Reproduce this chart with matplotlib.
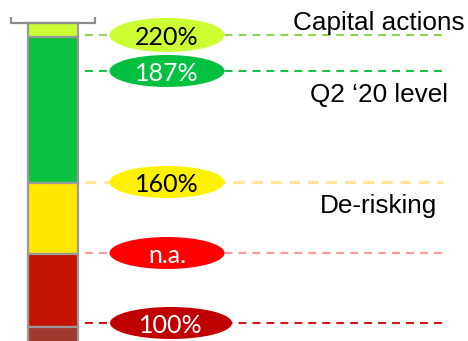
import matplotlib
matplotlib.use("Agg")
import matplotlib.pyplot as plt
from matplotlib.patches import Ellipse, Rectangle

# stacked column, top to bottom: (top edge, bottom edge, colour)
seg_tops = [23, 37, 183, 254, 327]
seg_bottoms = [37, 183, 254, 327, 350]
seg_colors = ["#CCFF33", "#0BC140", "#FFE800", "#C41400", "#A3382E"]

# level markers
level_labels = ["220%", "187%", "160%", "n.a.", "100%"]
level_y = [35, 71, 182, 253, 323]
bubble_colors = ["#CCFF33", "#00C040", "#FFF200", "#FF0000", "#C00000"]
text_colors = ["black", "white", "black", "white", "white"]
line_colors = ["#92D050", "#1BC145", "#FFE699", "#FF9999", "#D01818"]

# right-hand captions
captions = ["Capital actions", "Q2 \u201820 level", "De-risking"]
caption_y = [30, 102, 213]

W, H = 468, 341
fig = plt.figure(figsize=(W / 100, H / 100), dpi=100)
ax = fig.add_axes([0, 0, 1, 1])
ax.set_xlim(0, W)
ax.set_ylim(H, 0)
ax.axis("off")

# bracket on top of the column
ax.plot([11, 11, 95, 95], [17, 23, 23, 17], color="#8C8C8C", lw=1.6,
        solid_capstyle="butt", zorder=4)

# column segments
for top, bot, col in zip(seg_tops, seg_bottoms, seg_colors):
    ax.add_patch(Rectangle((28, top), 50, bot - top, facecolor=col,
                           edgecolor="#999999", lw=1.6, zorder=3))

# dashed level lines with labelled bubbles
for i, lab in enumerate(level_labels):
    y = level_y[i]
    if i == 2:
        ax.plot([85, 443], [y, y], color=line_colors[i], lw=2.3,
                dashes=(3.4, 2.4), zorder=1)
    else:
        ax.plot([85, 443], [y, y], color=line_colors[i], lw=1.5,
                dashes=(3.8, 2.9), zorder=1)
    w = 122 if lab == "100%" else 115
    cx = 171 if lab == "100%" else 167
    h = 34 if i == 0 else 32
    ax.add_patch(Ellipse((cx, y), w, h, facecolor=bubble_colors[i],
                         edgecolor="none", zorder=2))
    ax.text(cx, y + 10, lab, ha="center", va="baseline", fontsize=18,
            family="Lato", color=text_colors[i], zorder=3)

for txt, y in zip(captions, caption_y):
    ax.text(379, y, txt, ha="center", va="baseline", fontsize=18.8,
            family="Liberation Sans", color="black")

fig.savefig("out.png", dpi=100)
